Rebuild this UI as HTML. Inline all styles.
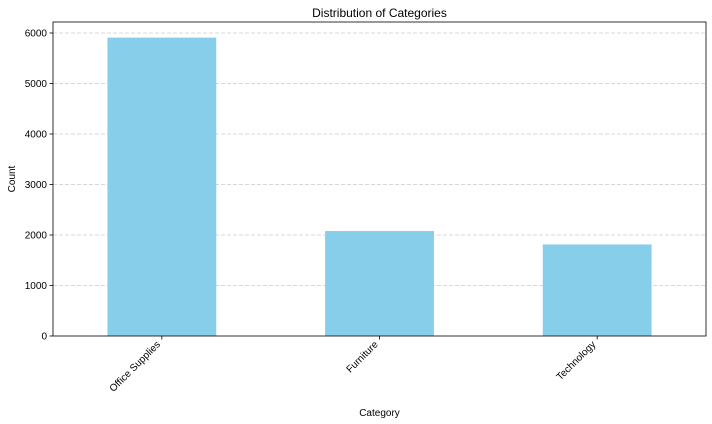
<!DOCTYPE html>
<html><head><meta charset="utf-8"><style>
body{margin:0;background:#fff;}
svg{display:block;font-family:"Liberation Sans","DejaVu Sans",sans-serif;}
</style></head><body>
<svg id="c" width="712" height="424"></svg>
<script>
const categories=["Office Supplies","Furniture","Technology"];
const counts=[5909,2078,1813];
const yTicks=[0,1000,2000,3000,4000,5000,6000];
const L=53,R=706,T=22,B=336;
const NS="http://www.w3.org/2000/svg";
const svg=document.getElementById('c');
function y(v){return B-(v/6000)*(B-33);}
const step=(R-L)/categories.length;
function x(i){return L+step*(i+0.5);}
function mk(t,a,p){const e=document.createElementNS(NS,t);for(const k in a)e.setAttribute(k,a[k]);(p||svg).appendChild(e);return e;}
yTicks.forEach(v=>{
 if(v>0){const g=mk('line',{x1:L,x2:R,y1:y(v),y2:y(v),stroke:'#ccc','stroke-width':0.7,'stroke-dasharray':'4,2'});
 
 }
 const tk=mk('line',{x1:L-3.5,x2:L,y1:y(v),y2:y(v),stroke:'#000','stroke-width':0.8});
 
 
 const t=mk('text',{x:L-6,y:y(v)+3.5,'text-anchor':'end','font-size':10});
 t.textContent=v;
 
 
});
categories.forEach((c,i)=>{
 const bw=step*0.5;
 const r=mk('rect',{x:x(i)-bw/2,y:y(counts[i]),width:bw,height:B-y(counts[i]),fill:'#87ceeb'});
 
 
 const tk=mk('line',{x1:x(i),x2:x(i),y1:B,y2:B+3.5,stroke:'#000','stroke-width':0.8});
 
 
 const lx=x(i)-1, ly=B+9;
 const t=mk('text',{x:lx,y:ly,'text-anchor':'end','font-size':10,transform:`rotate(-45 ${lx} ${ly})`});
 t.textContent=c;
 
 
});
const f=mk('rect',{x:L,y:T,width:R-L,height:B-T,fill:'none',stroke:'#000','stroke-width':0.8});


const ti=mk('text',{x:(L+R)/2,y:17,'text-anchor':'middle','font-size':12});
ti.textContent='Distribution of Categories';


const xt=mk('text',{x:(L+R)/2,y:416,'text-anchor':'middle','font-size':10});
xt.textContent='Category';


const yt=mk('text',{x:15,y:(T+B)/2,'text-anchor':'middle','font-size':10,transform:`rotate(-90 15 ${(T+B)/2})`});
yt.textContent='Count';


</script>
</body></html>
